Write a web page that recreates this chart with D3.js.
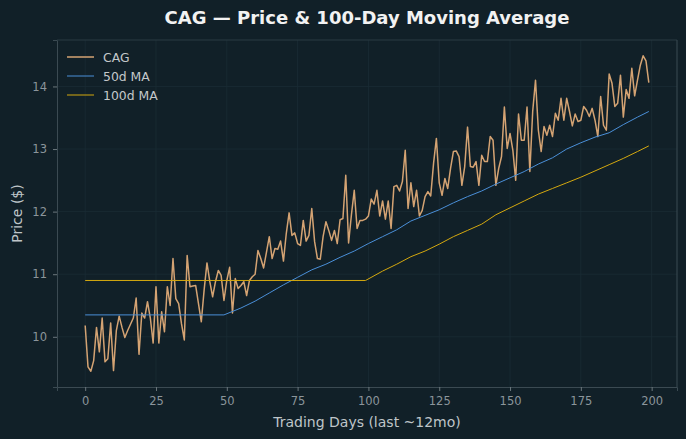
<!DOCTYPE html>
<html>
<head>
<meta charset="utf-8">
<script src="https://d3js.org/d3.v7.min.js"></script>
<style>
  body { margin: 0; background: #112028; }
  svg { display: block; background: #112028; font-family: "DejaVu Sans", sans-serif; }
</style>
</head>
<body>
<svg id="chart" width="686" height="439"></svg>
<script>
// closing prices, one per trading day (0..199)
var price = [
  10.18, 9.52, 9.45, 9.62, 10.15, 9.76, 10.3, 9.6, 9.65, 10.22,
  9.46, 10.1, 10.33, 10.15, 9.99, 10.1, 10.2, 10.3, 10.62, 9.72,
  10.38, 10.3, 10.56, 10.3, 9.9, 10.8, 9.9, 10.4, 10.08, 10.8,
  10.5, 11.25, 10.61, 10.53, 10.21, 9.95, 11.3, 10.8, 10.81, 10.82,
  10.53, 10.24, 10.75, 11.18, 10.88, 10.64, 10.88, 11.06, 10.98, 10.58,
  10.9, 11.11, 10.38, 10.93, 10.77, 10.82, 10.88, 10.66, 10.9, 10.96,
  11.0, 11.38, 11.25, 11.1, 11.35, 11.6, 11.25, 11.41, 11.4, 11.53,
  11.21, 11.65, 11.98, 11.62, 11.66, 11.49, 11.46, 11.86, 11.53, 11.62,
  12.05, 11.52, 11.25, 11.24, 11.6, 11.84, 11.7, 11.54, 11.7, 11.49,
  11.87, 11.89, 12.58, 11.5, 11.95, 12.34, 11.73, 11.86, 11.86, 11.88,
  11.93, 12.2, 12.12, 12.34, 11.93, 12.17, 11.88, 12.17, 11.73, 12.4,
  12.42, 12.33, 12.48, 12.98, 12.05, 12.46, 12.08, 12.34, 11.93, 12.02,
  12.24, 12.32, 12.25, 12.77, 13.17, 12.46, 12.26, 12.53, 12.37, 12.69,
  12.96, 12.97, 12.88, 12.42, 12.72, 13.35, 12.72, 12.71, 12.8, 12.42,
  12.9, 12.8, 12.8, 13.2, 13.14, 12.42, 12.69, 12.88, 13.67, 13.01,
  13.25, 12.98, 12.5, 13.56, 13.14, 13.14, 13.67, 12.64, 13.6, 14.1,
  13.3, 12.96, 13.36, 13.22, 13.38, 13.2, 13.57, 13.46, 13.81, 13.46,
  13.81, 13.6, 13.37, 13.56, 13.44, 13.46, 13.68, 13.62, 13.52, 13.65,
  13.46, 13.2, 13.84, 13.38, 13.3, 14.2, 14.05, 13.68, 13.73, 14.18,
  13.51, 13.95, 13.81, 14.29, 13.85, 14.1, 14.34, 14.49, 14.41, 14.06
];

// moving averages at sample days
var ma50Days = [0, 49, 55, 60, 65, 70, 75, 80, 85, 90, 95, 100, 105, 110, 115, 120, 125, 130,
                135, 140, 145, 150, 155, 160, 165, 170, 175, 180, 185, 190, 195, 199];
var ma50Vals = [10.35, 10.35, 10.46, 10.57, 10.7, 10.83, 10.95, 11.07, 11.16, 11.27, 11.37, 11.49,
                11.6, 11.71, 11.85, 11.94, 12.03, 12.14, 12.24, 12.33, 12.44, 12.54, 12.64, 12.76,
                12.86, 13.0, 13.1, 13.19, 13.26, 13.39, 13.51, 13.6];
var ma100Days = [0, 99, 105, 110, 115, 120, 125, 130, 135, 140, 145, 150, 155, 160, 165, 170,
                 175, 180, 185, 190, 195, 199];
var ma100Vals = [10.9, 10.9, 11.05, 11.16, 11.28, 11.37, 11.48, 11.6, 11.7, 11.8, 11.95, 12.06,
                 12.17, 12.28, 12.37, 12.46, 12.55, 12.65, 12.75, 12.85, 12.96, 13.05];

var xTicks = [0, 25, 50, 75, 100, 125, 150, 175, 200];
var yTicks = [10, 11, 12, 13, 14];

var svg = d3.select("#chart"),
  margin = { top: 40, right: 9, bottom: 52, left: 57 },
  width = 686 - margin.left - margin.right,
  height = 439 - margin.top - margin.bottom;

var g = svg.append("g").attr("transform", "translate(" + margin.left + "," + margin.top + ")");

// matplotlib-style 5% padding on both axes
var xPad = (price.length - 1) * 0.05;
var x = d3.scaleLinear().domain([-xPad, price.length - 1 + xPad]).range([0, width]);
var yMin = d3.min(price), yMax = d3.max(price), yPad = (yMax - yMin) * 0.05;
var y = d3.scaleLinear().domain([yMin - yPad, yMax + yPad]).range([height, 0]);

// grid
g.append("g").selectAll("line").data(xTicks).enter().append("line")
  .attr("x1", d => x(d)).attr("x2", d => x(d)).attr("y1", 0).attr("y2", height)
  .attr("stroke", "#1b2c35").attr("stroke-width", 0.8);
g.append("g").selectAll("line").data(yTicks).enter().append("line")
  .attr("y1", d => y(d)).attr("y2", d => y(d)).attr("x1", 0).attr("x2", width)
  .attr("stroke", "#1b2c35").attr("stroke-width", 0.8);

// axes
var xAxis = g.append("g").attr("transform", "translate(0," + height + ")")
  .call(d3.axisBottom(x).tickValues(xTicks).tickFormat(d3.format("d"))
    .tickSizeOuter(0).tickSize(4).tickPadding(6));
var yAxis = g.append("g")
  .call(d3.axisLeft(y).tickValues(yTicks).tickFormat(d3.format("d"))
    .tickSizeOuter(0).tickSize(4).tickPadding(6));
[xAxis, yAxis].forEach(function (a) {
  a.select(".domain").attr("stroke", "#3b4a52");
  a.selectAll(".tick line").attr("stroke", "#6b767c");
  a.selectAll(".tick text").attr("fill", "#8b959b").style("font-size", "11.5px")
    .style("font-family", "DejaVu Sans");
});
// top and right spines
g.append("line").attr("x1", 0).attr("x2", width).attr("y1", 0).attr("y2", 0).attr("stroke", "#2a3a42");
g.append("line").attr("x1", width).attr("x2", width).attr("y1", 0).attr("y2", height).attr("stroke", "#3b4a52");

// lines
var priceLine = d3.line().x((d, i) => x(i)).y(d => y(d));
var maLine = d3.line().x(d => x(d[0])).y(d => y(d[1]));

g.append("path").datum(price).attr("d", priceLine)
  .attr("fill", "none").attr("stroke", "#d4a373").attr("stroke-width", 1.5)
  .attr("stroke-linejoin", "round");
g.append("path").datum(d3.zip(ma50Days, ma50Vals)).attr("d", maLine)
  .attr("fill", "none").attr("stroke", "#4a8fd8").attr("stroke-width", 1);
g.append("path").datum(d3.zip(ma100Days, ma100Vals)).attr("d", maLine)
  .attr("fill", "none").attr("stroke", "#d4a80f").attr("stroke-width", 1);

// labels
svg.append("text").attr("x", margin.left + width / 2).attr("y", 24)
  .attr("text-anchor", "middle").attr("fill", "#f2f2f2")
  .style("font-size", "18px").style("font-weight", "bold")
  .text("CAG \u2014 Price & 100-Day Moving Average");
svg.append("text").attr("x", margin.left + width / 2).attr("y", 427)
  .attr("text-anchor", "middle").attr("fill", "#bfc5c8").style("font-size", "14px")
  .text("Trading Days (last ~12mo)");
svg.append("text").attr("transform", "translate(22," + (margin.top + height / 2) + ") rotate(-90)")
  .attr("text-anchor", "middle").attr("fill", "#bfc5c8").style("font-size", "14px")
  .text("Price ($)");

// legend
var legendItems = [
  { label: "CAG", color: "#d4a373", w: 1.5 },
  { label: "50d MA", color: "#4a8fd8", w: 1 },
  { label: "100d MA", color: "#d4a80f", w: 1 }
];
var lg = svg.append("g").attr("transform", "translate(67,57)");
legendItems.forEach(function (d, i) {
  lg.append("line").attr("x1", 0).attr("x2", 27).attr("y1", i * 19).attr("y2", i * 19)
    .attr("stroke", d.color).attr("stroke-width", d.w);
  lg.append("text").attr("x", 36).attr("y", i * 19 + 4.5).attr("fill", "#c4c8ca")
    .style("font-size", "12.4px").text(d.label);
});
</script>
</body>
</html>
